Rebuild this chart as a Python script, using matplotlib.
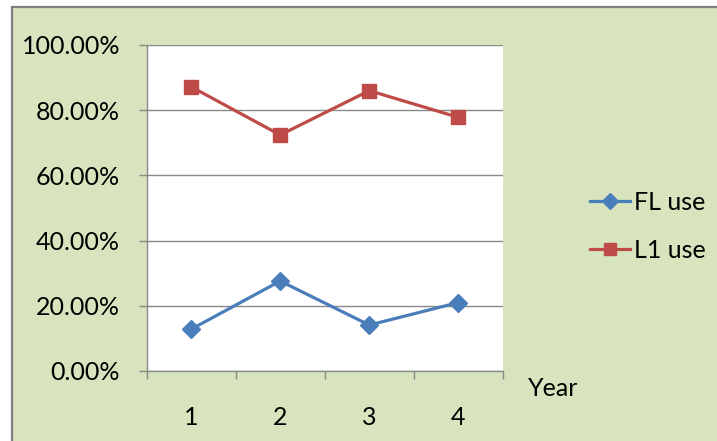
import matplotlib
matplotlib.use('Agg')
import matplotlib.pyplot as plt
from matplotlib.patches import Rectangle
from matplotlib.ticker import FixedLocator, PercentFormatter

# Share of language use per year
years = [1, 2, 3, 4]
fl_use = [0.128, 0.276, 0.141, 0.210]
l1_use = [0.872, 0.724, 0.860, 0.778]
series_labels = ['FL use', 'L1 use']
y_ticks = [0.0, 0.2, 0.4, 0.6, 0.8, 1.0]

bg_green = '#D7E4BD'
grid_grey = '#898989'
blue = '#4A7EBB'
red = '#BE4B48'
fs = 18

plt.rcParams['font.family'] = ['Lato', 'DejaVu Sans']

W, H = 717, 441
fig = plt.figure(figsize=(W / 100, H / 100), dpi=100)
fig.patch.set_facecolor('white')

# chart area: green panel with grey border (left and top visible)
fig.patches.append(Rectangle((12 / W, -0.05), 1.1, 1 - 7 / H + 0.05,
                             transform=fig.transFigure, facecolor=bg_green,
                             edgecolor='#7F7F7F', linewidth=1.6, zorder=-5))

left, right, top, bottom = 146.5, 503, 45, 371
ax = fig.add_axes([left / W, 1 - bottom / H, (right - left) / W, (bottom - top) / H])
ax.set_facecolor('white')

ax.plot(years, fl_use, color=blue, lw=2.3, marker='D', ms=9,
        label=series_labels[0], zorder=3)
ax.plot(years, l1_use, color=red, lw=2.3, marker='s', ms=9.5,
        label=series_labels[1], zorder=3)

ax.set_xlim(0.5, 4.5)
ax.set_ylim(0, 1)

# horizontal gridlines
ax.yaxis.set_major_locator(FixedLocator(y_ticks))
ax.yaxis.set_major_formatter(PercentFormatter(1.0, decimals=2))
ax.grid(axis='y', color=grid_grey, lw=1.0)
ax.set_axisbelow(True)

for side in ['top', 'right']:
    ax.spines[side].set_visible(False)
for side in ['left', 'bottom']:
    ax.spines[side].set_color(grid_grey)
    ax.spines[side].set_linewidth(1.0)

ax.tick_params(axis='y', direction='out', length=6, width=1.0, color=grid_grey,
               labelsize=fs, pad=13, labelcolor='black')

# category boundaries carry the tick marks, centres carry the labels
ax.xaxis.set_major_locator(FixedLocator([0.5, 1.5, 2.5, 3.5, 4.5]))
ax.xaxis.set_minor_locator(FixedLocator(years))
ax.xaxis.set_major_formatter(plt.NullFormatter())
ax.xaxis.set_minor_formatter(plt.FixedFormatter([str(y) for y in years]))
ax.tick_params(axis='x', which='major', direction='out', length=5.5, width=1.0,
               color=grid_grey)
ax.tick_params(axis='x', which='minor', length=0, labelsize=fs, pad=25)

leg = ax.legend(loc='center left', bbox_to_anchor=(590 / W, 1 - 226 / H),
                bbox_transform=fig.transFigure, frameon=False, fontsize=fs,
                handlelength=1.6, handletextpad=0.15, labelspacing=1.0,
                borderpad=0, borderaxespad=0, markerscale=0.95)

fig.text(528 / W, 1 - 389 / H, 'Year', fontsize=fs, va='center', ha='left')

fig.savefig('out.png', dpi=100)
